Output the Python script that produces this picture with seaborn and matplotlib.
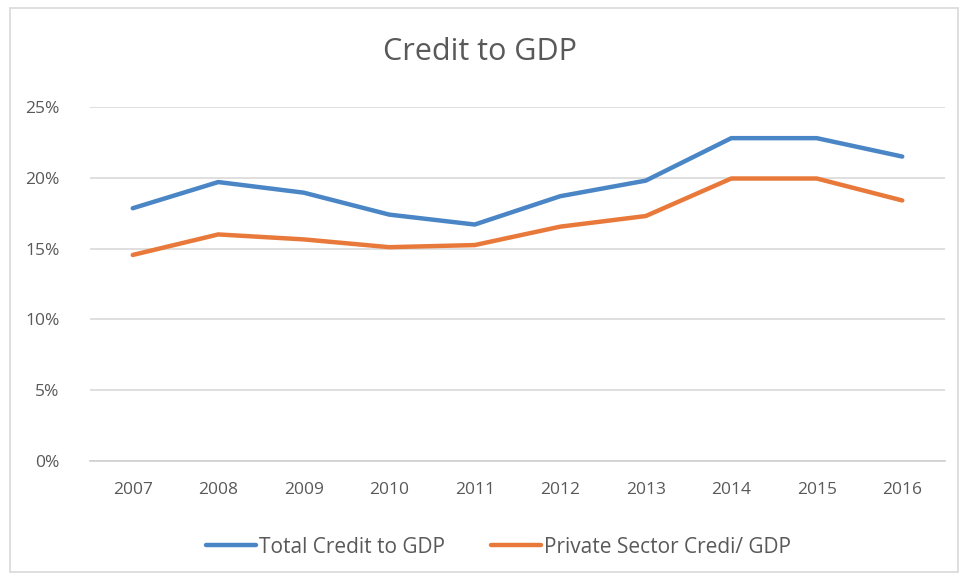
import matplotlib
matplotlib.use("Agg")
import matplotlib.pyplot as plt
import matplotlib.patches as mpatches
import seaborn as sns
import pandas as pd
from matplotlib.ticker import FuncFormatter

years = ["2007", "2008", "2009", "2010", "2011", "2012", "2013", "2014", "2015", "2016"]
total_credit = [17.85, 19.7, 18.95, 17.4, 16.7, 18.7, 19.8, 22.8, 22.8, 21.5]
private_credit = [14.55, 16.0, 15.65, 15.1, 15.25, 16.55, 17.3, 19.95, 19.95, 18.4]
series_names = ["Total Credit to GDP", "Private Sector Credi/ GDP"]
colors = ["#4A86C5", "#E8793A"]
yticks = [0, 5, 10, 15, 20, 25]

df = pd.DataFrame({
    "Year": years * 2,
    "Value": total_credit + private_credit,
    "Series": [series_names[0]] * len(years) + [series_names[1]] * len(years),
})

sns.set_theme(style="white")
plt.rcParams["font.family"] = ["Open Sans", "DejaVu Sans"]

fig = plt.figure(figsize=(9.6, 5.81), dpi=100)
ax = fig.add_axes([90 / 960, 1 - 461 / 581, 855 / 960, 354 / 581])

sns.lineplot(data=df, x="Year", y="Value", hue="Series", palette=colors,
             linewidth=3.2, ax=ax, sort=False, legend=True)

ax.set_xlim(-0.5, len(years) - 0.5)
ax.set_ylim(0, 25)
ax.set_yticks(yticks)
ax.yaxis.set_major_formatter(FuncFormatter(lambda v, p: f"{int(v)}%"))
ax.grid(axis="y", color="#d9d9d9", linewidth=1.2)
ax.grid(axis="x", visible=False)
for s in ["top", "right", "left"]:
    ax.spines[s].set_visible(False)
ax.spines["bottom"].set_color("#cfcfcf")
ax.spines["bottom"].set_linewidth(1.2)
ax.tick_params(axis="both", length=0, labelsize=12.5, labelcolor="#595959")
ax.tick_params(axis="y", pad=22)
ax.tick_params(axis="x", pad=15)
ax.set_xlabel("")
ax.set_ylabel("")

fig.text(0.5, 1 - 52 / 581, "Credit to GDP", ha="center", va="center",
         fontsize=22, color="#595959")

handles, labels = ax.get_legend_handles_labels()
ax.legend(handles, labels, loc="center", bbox_to_anchor=(0.478, -0.243),
          ncol=2, frameon=False, fontsize=15, labelcolor="#595959",
          handlelength=2.4, handletextpad=0.15, columnspacing=2.2)

border = mpatches.Rectangle((10 / 960, 1 - 572 / 581), 948 / 960, 564 / 581,
                            transform=fig.transFigure, fill=False,
                            edgecolor="#d9d9d9", linewidth=1.2)
fig.patches.append(border)

fig.savefig("out.png", dpi=100)
